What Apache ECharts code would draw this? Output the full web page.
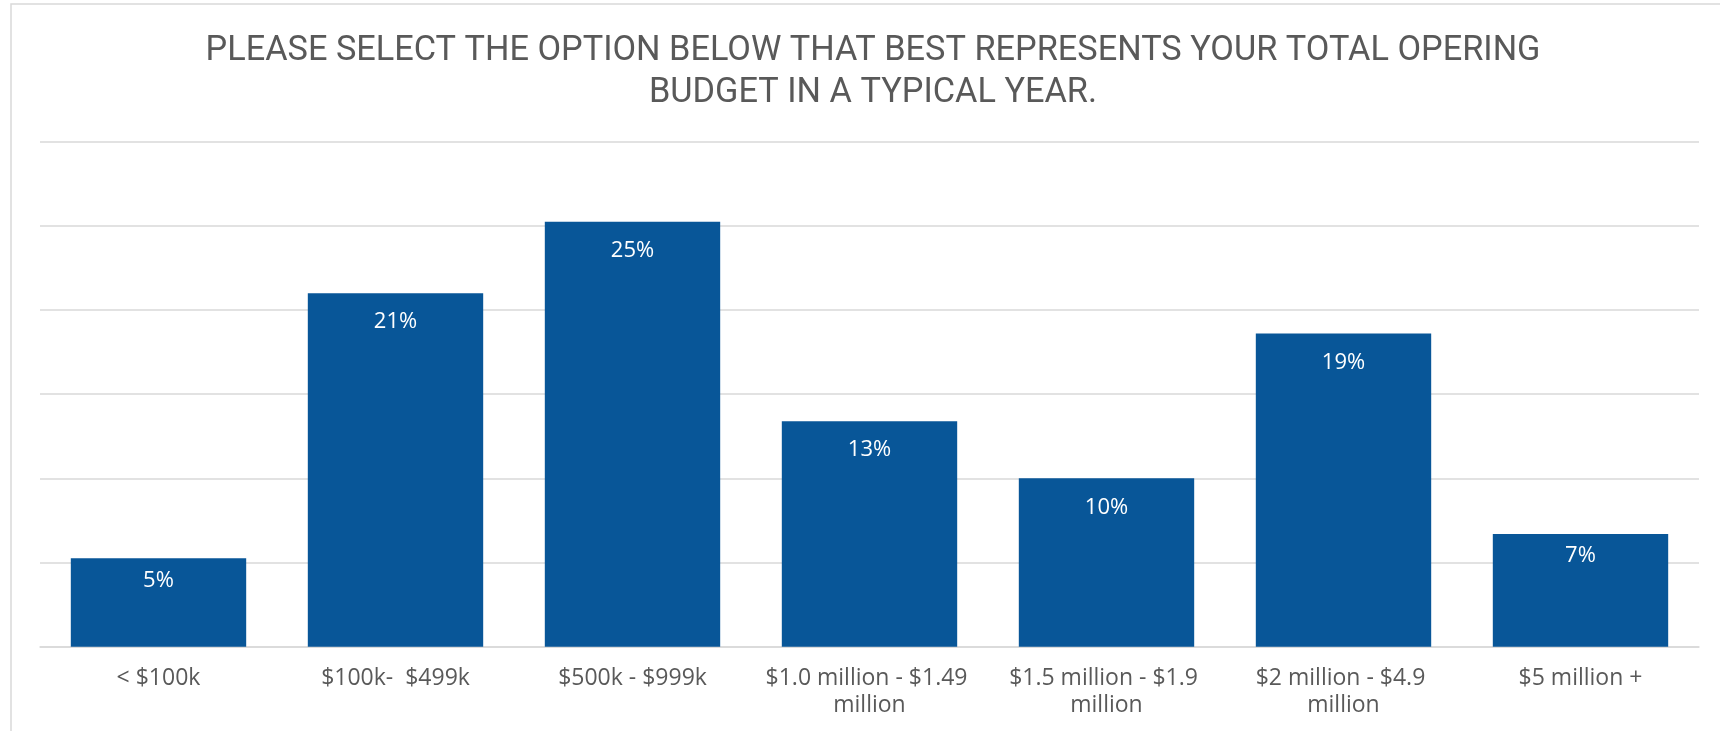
<!DOCTYPE html>
<html>
<head>
<meta charset="utf-8">
<script src="https://cdn.jsdelivr.net/npm/echarts@6/dist/echarts.min.js"></script>
<style>
html,body{margin:0;padding:0;background:#fff;}
#chart{width:1720px;height:731px;}
</style>
</head>
<body>
<div id="chart"></div>
<script>
var titleLines = ['PLEASE SELECT THE OPTION BELOW THAT BEST REPRESENTS YOUR TOTAL OPERING', 'BUDGET IN A TYPICAL YEAR.'];
var categories = ['< $100k', '$100k-  $499k', '$500k - $999k', '$1.0 million - $1.49 million', '$1.5 million - $1.9 million', '$2 million - $4.9 million', '$5 million +'];
var values = [5.25, 21.0, 25.25, 13.4, 10.0, 18.6, 6.7];
var yTicks = {min: 0, max: 30, interval: 5};

var barData = values.map(function (v) {
  return {value: v, label: {distance: v < 8 ? 11 : 18}};
});

var chart = echarts.init(document.getElementById('chart'), null, {renderer: 'canvas'});
chart.setOption({
  animation: false,
  backgroundColor: '#ffffff',
  title: {
    text: titleLines.join('\n'),
    left: 868,
    top: 26,
    textAlign: 'center',
    textStyle: {
      fontFamily: 'Roboto',
      fontSize: 34.3,
      fontWeight: 'normal',
      color: '#595959',
      lineHeight: 41.5
    }
  },
  graphic: [{
    type: 'rect',
    shape: {x: 11, y: 4, width: 1760, height: 800},
    style: {fill: 'none', stroke: '#d9d9d9', lineWidth: 1.5},
    silent: true,
    z: -1
  }],
  grid: {left: 40, right: 21, top: 141.7, bottom: 84.3, containLabel: false},
  xAxis: {
    type: 'category',
    data: categories,
    axisLine: {lineStyle: {color: '#d9d9d9', width: 1.5}},
    axisTick: {show: false},
    axisLabel: {
      interval: 0,
      margin: 18,
      color: '#595959',
      fontFamily: 'Open Sans',
      fontSize: 23,
      lineHeight: 27,
      width: 226,
      overflow: 'break',
      align: 'center'
    }
  },
  yAxis: {
    type: 'value',
    min: yTicks.min,
    max: yTicks.max,
    interval: yTicks.interval,
    axisLine: {show: false},
    axisTick: {show: false},
    axisLabel: {show: false},
    splitLine: {lineStyle: {color: '#d9d9d9', width: 1.5}}
  },
  series: [{
    type: 'bar',
    data: barData,
    barCategoryGap: '26%',
    itemStyle: {color: '#085698'},
    label: {
      show: true,
      position: 'insideTop',
      color: '#ffffff',
      fontFamily: 'Open Sans',
      fontSize: 22,
      formatter: function (p) { return Math.round(p.value) + '%'; }
    }
  }]
});
</script>
</body>
</html>
